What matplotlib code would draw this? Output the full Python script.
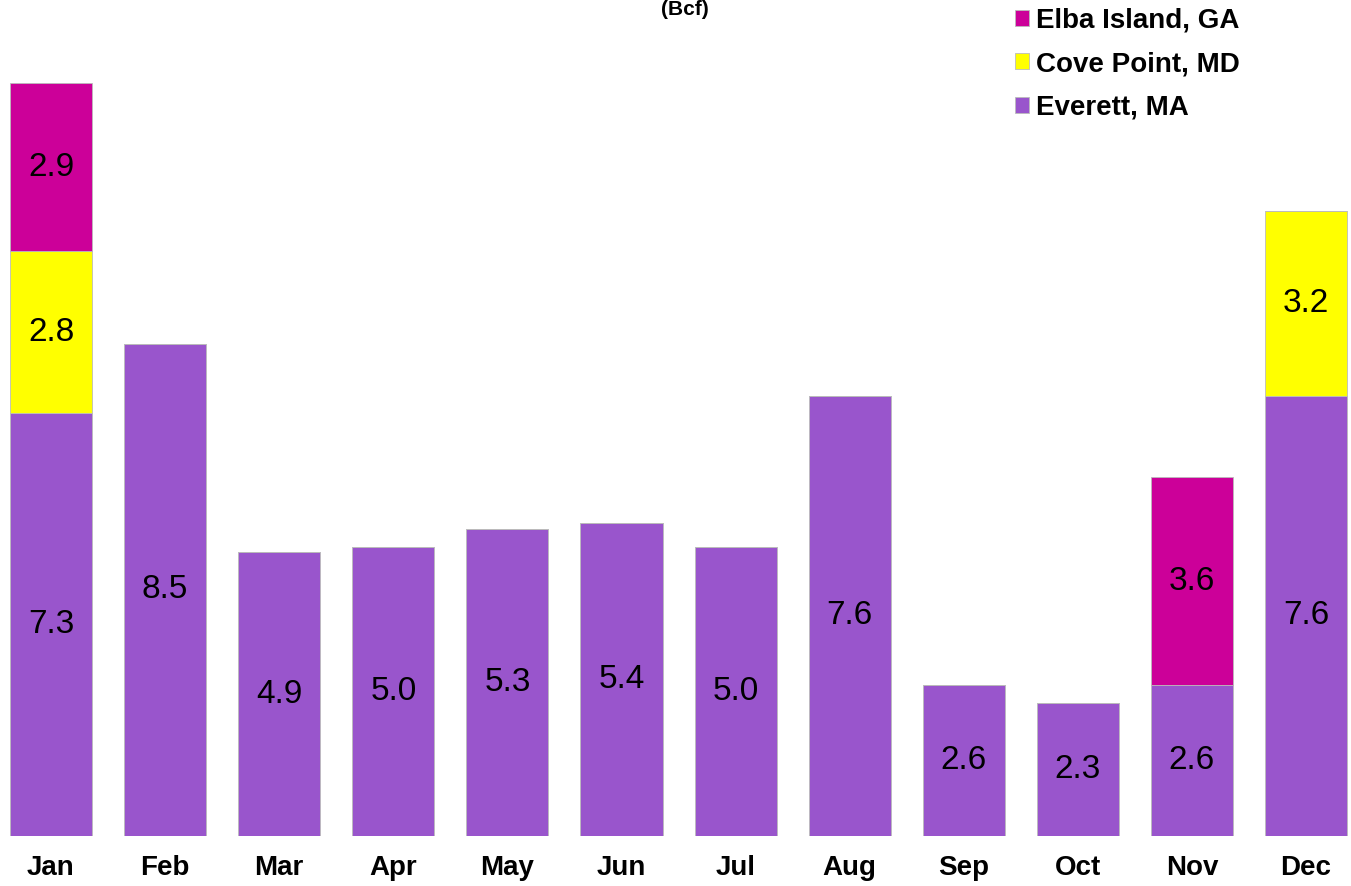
import matplotlib
matplotlib.use("Agg")
import matplotlib.pyplot as plt
from matplotlib.patches import Patch
import numpy as np

months = ["Jan", "Feb", "Mar", "Apr", "May", "Jun", "Jul", "Aug", "Sep", "Oct", "Nov", "Dec"]
everett = [7.3, 8.5, 4.9, 5.0, 5.3, 5.4, 5.0, 7.6, 2.6, 2.3, 2.6, 7.6]
cove_point = [2.8, 0, 0, 0, 0, 0, 0, 0, 0, 0, 0, 3.2]
elba_island = [2.9, 0, 0, 0, 0, 0, 0, 0, 0, 0, 3.6, 0]

series = [
    ("Everett, MA", everett, "#9955CC"),
    ("Cove Point, MD", cove_point, "#FFFF00"),
    ("Elba Island, GA", elba_island, "#CC0099"),
]

plt.rcParams['font.family'] = ['Liberation Sans', 'DejaVu Sans']

W, H = 1351, 886
fig = plt.figure(figsize=(W / 100, H / 100), dpi=100)
ax = fig.add_axes([0, 50 / H, 1, 836 / H])

x = np.arange(len(months))
bottom = np.zeros(len(months))
for name, vals, col in series:
    vals = np.array(vals, dtype=float)
    ax.bar(x, vals, width=0.72, bottom=bottom, color=col, edgecolor="#BBBBBB",
           linewidth=0.6, label=name)
    for xi, v, b in zip(x, vals, bottom):
        if v > 0:
            ax.text(xi, b + v / 2, f"{v:.1f}", ha="center", va="center", fontsize=24, color="black")
    bottom += vals

ax.set_xlim((0 - 51) / 114.1, (W - 51) / 114.1)
ax.set_ylim(0, 836 / 57.9)
ax.set_xticks(x)
ax.set_xticklabels(months, fontsize=20, fontweight="bold")
ax.tick_params(axis="x", length=0, pad=14)
ax.set_yticks([])
for s in ax.spines.values():
    s.set_visible(False)

handles = [Patch(facecolor=c, edgecolor="#BBBBBB", linewidth=0.6) for _, _, c in series[::-1]]
labels = [n for n, _, _ in series[::-1]]
fig.legend(handles, labels, loc="upper left", bbox_to_anchor=(1015 / W, 1 - 8 / H),
           frameon=False, prop={"size": 20, "weight": "bold"},
           handlelength=0.52, handleheight=0.52, handletextpad=0.25, labelspacing=0.62,
           borderpad=0, borderaxespad=0)

fig.text(685 / W, 1 - 15 / H, "(Bcf)", ha="center", va="baseline", fontsize=15, fontweight="bold")

fig.savefig("out.png", dpi=100)
